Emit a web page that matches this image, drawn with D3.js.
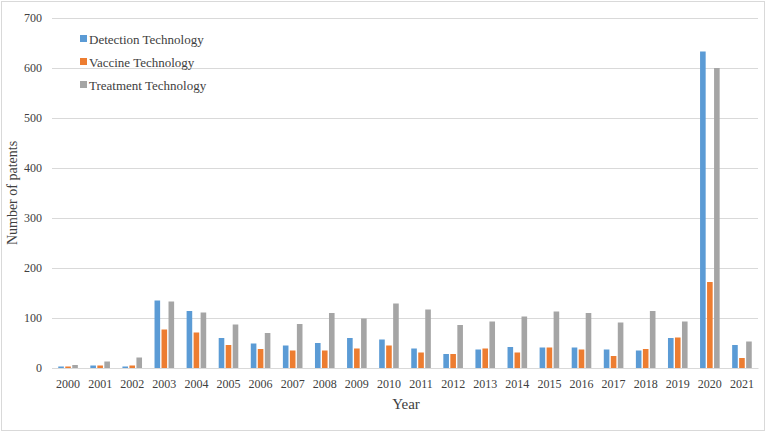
<!DOCTYPE html>
<html>
<head>
<meta charset="utf-8">
<script src="https://cdn.jsdelivr.net/npm/d3@7"></script>
<style>
  body { margin: 0; background: #fff; }
  text { font-family: "Liberation Serif", "Times New Roman", serif; }
</style>
</head>
<body>
<div class="chart"></div>
<script>
// data
const years = ["2000","2001","2002","2003","2004","2005","2006","2007","2008","2009","2010",
               "2011","2012","2013","2014","2015","2016","2017","2018","2019","2020","2021"];
const detection = [3, 5, 3, 135, 114, 60, 49, 45, 50, 60, 57, 39, 28, 37, 42, 41, 41, 37, 35, 60, 633, 46];
const vaccine   = [3, 5, 5, 77, 71, 46, 38, 35, 35, 39, 45, 31, 28, 39, 31, 41, 37, 24, 38, 61, 172, 20];
const treatment = [6, 13, 21, 133, 111, 87, 70, 88, 110, 99, 129, 117, 86, 93, 103, 113, 110, 91, 114, 93, 600, 53];
const seriesNames = ["Detection Technology", "Vaccine Technology", "Treatment Technology"];
const colors = ["#5B9BD5", "#ED7D31", "#A5A5A5"];
const yTicks = [0, 100, 200, 300, 400, 500, 600, 700];

const W = 767, H = 432;
const margin = {top: 18, right: 9, bottom: 64, left: 52};
const width = W - margin.left - margin.right,
      height = H - margin.top - margin.bottom;

const root = d3.select(".chart").append("svg")
    .attr("width", W).attr("height", H);

// outer frame
root.append("rect")
    .attr("x", 1.5).attr("y", 1.5)
    .attr("width", W - 4).attr("height", H - 3)
    .attr("fill", "none").attr("stroke", "#d9d9d9");

const svg = root.append("g")
    .attr("transform", `translate(${margin.left},${margin.top})`);

const xScale = d3.scaleBand().domain(years).range([0, width]);
const xInner = d3.scaleBand().domain(seriesNames)
    .range([xScale.bandwidth() / 2 - 9.8, xScale.bandwidth() / 2 + 9.8])
    .paddingInner(0.2);
const yScale = d3.scaleLinear().domain([0, 700]).range([height, 0]);

// gridlines
const yAxis = d3.axisLeft(yScale).tickValues(yTicks).tickSize(-width).tickPadding(10);
svg.append("g").attr("class", "y-axis").call(yAxis)
   .call(g => g.select(".domain").remove())
   .call(g => g.selectAll(".tick line").attr("stroke", "#d9d9d9"))
   .call(g => g.selectAll(".tick text")
       .attr("fill", "#404040").attr("font-size", 12)
       .attr("font-family", "Liberation Serif, Times New Roman, serif"));

const table = years.map((y, i) => ({year: y, values: [detection[i], vaccine[i], treatment[i]]}));

svg.append("g").selectAll("g")
   .data(table)
   .join("g")
   .attr("transform", d => `translate(${xScale(d.year)},0)`)
   .selectAll("rect")
   .data(d => d.values.map((v, k) => ({name: seriesNames[k], v, k})))
   .join("rect")
   .attr("x", d => xInner(d.name))
   .attr("width", xInner.bandwidth())
   .attr("y", d => yScale(d.v))
   .attr("height", d => yScale(0) - yScale(d.v))
   .attr("fill", d => colors[d.k]);

// x axis
const xAxis = d3.axisBottom(xScale).tickSize(0).tickPadding(11);
svg.append("g").attr("class", "x-axis")
   .attr("transform", `translate(0,${height})`)
   .call(xAxis)
   .call(g => g.select(".domain").attr("stroke", "#d9d9d9"))
   .call(g => g.selectAll(".tick text")
       .attr("fill", "#404040").attr("font-size", 12)
       .attr("font-family", "Liberation Serif, Times New Roman, serif"));

// axis titles
root.append("text")
    .attr("x", 406).attr("y", 409)
    .attr("text-anchor", "middle")
    .attr("font-size", 15).attr("fill", "#404040")
    .text("Year");
root.append("text")
    .attr("transform", "translate(17,193) rotate(-90)")
    .attr("text-anchor", "middle")
    .attr("font-size", 14).attr("fill", "#404040")
    .text("Number of patents");

// legend
const legend = root.append("g").attr("transform", "translate(80,39)");
const item = legend.selectAll("g")
    .data(seriesNames)
    .join("g")
    .attr("transform", (d, i) => `translate(0,${i * 23})`);
item.append("rect")
    .attr("x", 0).attr("y", -4)
    .attr("width", 7).attr("height", 7)
    .attr("fill", (d, i) => colors[i]);
item.append("text")
    .attr("x", 9).attr("y", 0)
    .attr("dy", "0.35em")
    .attr("font-size", 13).attr("fill", "#404040")
    .text(d => d);
</script>
</body>
</html>
